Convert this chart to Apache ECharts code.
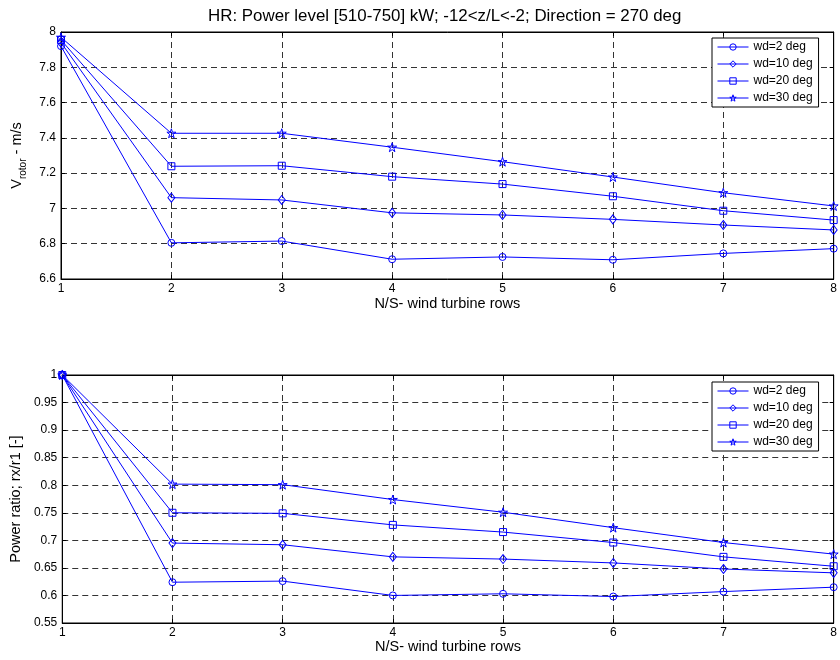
<!DOCTYPE html>
<html>
<head>
<meta charset="utf-8">
<script src="https://cdn.jsdelivr.net/npm/echarts@6/dist/echarts.min.js"></script>
<style>
html,body{margin:0;padding:0;background:#fff;}
#chart{width:840px;height:660px;}
</style>
</head>
<body>
<div id="chart"></div>
<script>
// ---- data ----
var rows = [1, 2, 3, 4, 5, 6, 7, 8];
var seriesNames = ['wd=2 deg', 'wd=10 deg', 'wd=20 deg', 'wd=30 deg'];

// V_rotor (m/s)
var vrWd2  = [7.92, 6.805, 6.815, 6.712, 6.725, 6.709, 6.745, 6.772];
var vrWd10 = [7.94, 7.061, 7.048, 6.975, 6.963, 6.938, 6.906, 6.878];
var vrWd20 = [7.955, 7.239, 7.242, 7.180, 7.138, 7.069, 6.987, 6.934];
var vrWd30 = [7.97, 7.426, 7.426, 7.347, 7.265, 7.178, 7.089, 7.014];

// Power ratio rx/r1
var prWd2  = [1, 0.624, 0.626, 0.600, 0.603, 0.598, 0.607, 0.615];
var prWd10 = [1, 0.695, 0.692, 0.670, 0.666, 0.659, 0.648, 0.641];
var prWd20 = [1, 0.750, 0.749, 0.728, 0.715, 0.696, 0.670, 0.653];
var prWd30 = [1, 0.802, 0.801, 0.774, 0.751, 0.723, 0.696, 0.675];

var titleText = 'HR: Power level [510-750] kW; -12<z/L<-2; Direction = 270 deg';
var xName = 'N/S- wind turbine rows';
var y2Name = 'Power ratio; rx/r1 [-]';

// ---- styling ----
var FONT = '"Liberation Sans", Arial, Helvetica, sans-serif';
var BLUE = '#0000ff';
var STAR = 'path://M50,0 L61.2,34.5 L97.6,34.5 L68.2,55.9 L79.4,90.5 L50,69.1 L20.6,90.5 L31.8,55.9 L2.4,34.5 L38.8,34.5 Z';
var symbols = ['circle', 'diamond', 'rect', STAR];
var symbolSizes = [7, [7, 9], 7, 9];

function pairs(vals) { return rows.map(function (r, i) { return [r, vals[i]]; }); }

function mkSeries(name, idx, vals, axisIdx) {
  return {
    type: 'line', name: name,
    xAxisIndex: axisIdx, yAxisIndex: axisIdx,
    data: pairs(vals),
    symbol: symbols[idx], symbolSize: symbolSizes[idx],
    showAllSymbol: true,
    lineStyle: { color: BLUE, width: 1 },
    itemStyle: { color: 'rgba(0,0,0,0)', borderColor: BLUE, borderWidth: 1 },
    emphasis: { disabled: true },
    animation: false,
    clip: false,
    z: 3
  };
}

var gridLine = { show: true, lineStyle: { color: '#333', type: [6, 4], width: 1 } };
var axisLine = { show: true, onZero: false, lineStyle: { color: '#000', width: 1 } };
var tick = { show: true, inside: true, length: 4, lineStyle: { color: '#000' } };
var lbl = { color: '#000', fontFamily: FONT, fontSize: 12 };

function xMain(gi, gap) {
  return { type: 'value', gridIndex: gi, min: 1, max: 8, interval: 1, position: 'bottom',
    axisLine: axisLine, axisTick: tick, splitLine: gridLine,
    axisLabel: Object.assign({ margin: 4 }, lbl),
    name: xName, nameLocation: 'middle', nameGap: gap,
    nameTextStyle: { color: '#000', fontFamily: FONT, fontSize: 14.5 } };
}
function xTop(gi) {
  return { type: 'value', gridIndex: gi, min: 1, max: 8, interval: 1, position: 'top',
    axisLine: axisLine, axisTick: tick, splitLine: { show: false }, axisLabel: { show: false } };
}
function yMain(gi, mn, mx, itv, name, gap, rich) {
  var o = { type: 'value', gridIndex: gi, min: mn, max: mx, interval: itv, position: 'left',
    axisLine: axisLine, axisTick: tick, splitLine: gridLine,
    axisLabel: Object.assign({ margin: 5 }, lbl),
    name: name, nameLocation: 'middle', nameGap: gap, nameRotate: 90,
    nameTextStyle: { color: '#000', fontFamily: FONT, fontSize: 14.5 } };
  if (rich) o.nameTextStyle.rich = rich;
  return o;
}
function yRight(gi, mn, mx, itv) {
  return { type: 'value', gridIndex: gi, min: mn, max: mx, interval: itv, position: 'right',
    axisLine: axisLine, axisTick: tick, splitLine: { show: false }, axisLabel: { show: false } };
}

function mkLegend(top) {
  return {
    orient: 'vertical', left: 712, top: top,
    data: seriesNames,
    itemWidth: 31, itemHeight: 8, itemGap: 5,
    padding: [3, 6, 3, 5],
    borderColor: '#000', borderWidth: 1, backgroundColor: '#fff',
    selectedMode: false,
    itemStyle: { color: 'rgba(0,0,0,0)', borderColor: BLUE, borderWidth: 1 },
    lineStyle: { color: BLUE, width: 1 },
    textStyle: { color: '#000', fontFamily: FONT, fontSize: 12, lineHeight: 12 }
  };
}

var chart = echarts.init(document.getElementById('chart'), null, { renderer: 'canvas' });
chart.setOption({
  animation: false,
  backgroundColor: '#fff',
  title: { text: titleText, left: 208, top: 8, padding: 0,
    textStyle: { color: '#000', fontFamily: FONT, fontSize: 16.9, fontWeight: 'normal' } },
  legend: [mkLegend(38), mkLegend(382)],
  grid: [
    { left: 61, right: 5, top: 32, height: 247, show: true, borderColor: '#000', borderWidth: 1 },
    { left: 61, right: 5, top: 375, height: 248, show: true, borderColor: '#000', borderWidth: 1 }
  ],
  xAxis: [xMain(0, 17), xMain(1, 16), xTop(0), xTop(1)],
  yAxis: [
    yMain(0, 6.6, 8, 0.2, '{v|V}{s|rotor}{v| - m/s}', 33, {
      v: { fontFamily: FONT, fontSize: 14.5, color: '#000', verticalAlign: 'bottom', lineHeight: 18 },
      s: { fontFamily: FONT, fontSize: 10, color: '#000', verticalAlign: 'bottom', lineHeight: 10, padding: [0, 0, -4, 0] }
    }),
    yMain(1, 0.55, 1, 0.05, y2Name, 36),
    yRight(0, 6.6, 8, 0.2),
    yRight(1, 0.55, 1, 0.05)
  ],
  series: [
    mkSeries(seriesNames[0], 0, vrWd2, 0),
    mkSeries(seriesNames[1], 1, vrWd10, 0),
    mkSeries(seriesNames[2], 2, vrWd20, 0),
    mkSeries(seriesNames[3], 3, vrWd30, 0),
    mkSeries(seriesNames[0], 0, prWd2, 1),
    mkSeries(seriesNames[1], 1, prWd10, 1),
    mkSeries(seriesNames[2], 2, prWd20, 1),
    mkSeries(seriesNames[3], 3, prWd30, 1)
  ]
});
</script>
</body>
</html>
